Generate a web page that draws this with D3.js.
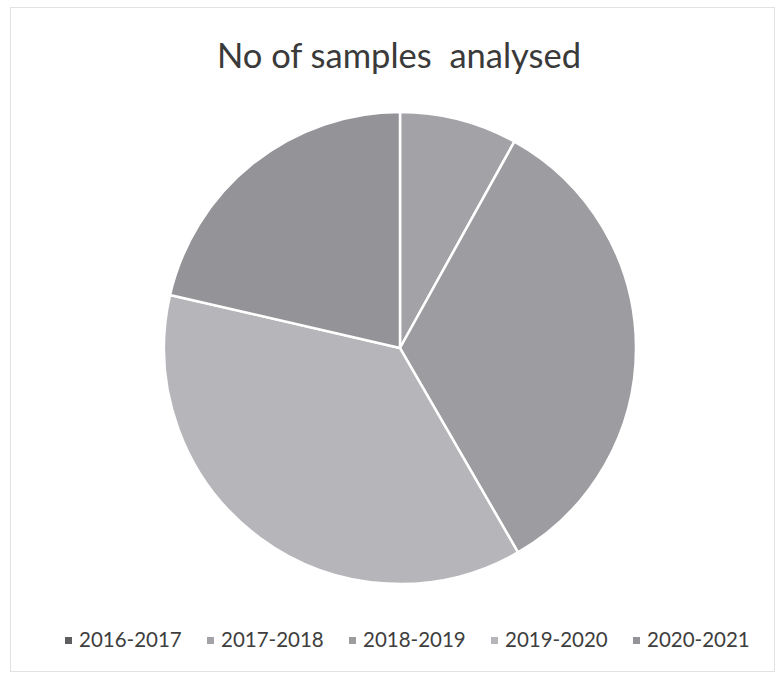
<!DOCTYPE html>
<html>
<head>
<meta charset="utf-8">
<script src="https://cdn.jsdelivr.net/npm/d3@7"></script>
<style>
  html, body { margin: 0; padding: 0; background: #fff; }
  svg { display: block; }
  text { font-family: Lato, "Open Sans", sans-serif; }
</style>
</head>
<body>
<svg id="chart" width="778" height="677"></svg>
<script>
const title = "No of samples  analysed";
const categories = ["2016-2017", "2017-2018", "2018-2019", "2019-2020", "2020-2021"];
const values = [0, 29, 121, 133, 77];
const colors = ["#5e5e60", "#a3a3a7", "#9d9da1", "#b6b6ba", "#949498"];

const svg = d3.select("#chart");

// chart frame
svg.append("rect").attr("x", 10.5).attr("y", 7.5).attr("width", 764).attr("height", 664)
  .attr("fill", "#fff").attr("stroke", "#e2e2e2").attr("stroke-width", 1);

// title
svg.append("text").attr("x", 399).attr("y", 68)
  .attr("text-anchor", "middle").attr("fill", "#3a3a3a")
  .style("font-size", "34.5px").style("white-space", "pre")
  .attr("xml:space", "preserve")
  .text(title);

const cx = 400, cy = 348, r = 236;
const data = categories.map((c, i) => ({ cat: c, value: values[i], color: colors[i] }));
const pie = d3.pie().value(d => d.value).sort(null).startAngle(0).endAngle(2 * Math.PI);
const arc = d3.arc().innerRadius(0).outerRadius(r);

const g = svg.append("g").attr("transform", `translate(${cx},${cy})`);
g.selectAll("path").data(pie(data)).join("path")
  .attr("d", arc)
  .attr("fill", d => d.data.color)
  .attr("stroke", "#fff").attr("stroke-width", 2.5).attr("stroke-linejoin", "round");

// legend
const legendX = d3.scaleBand().domain(categories).range([65, 775]).paddingInner(0);
const lg = svg.append("g");
const items = lg.selectAll("g").data(data).join("g")
  .attr("transform", d => `translate(${legendX(d.cat)},0)`);
items.append("rect").attr("x", 0).attr("y", 637).attr("width", 7).attr("height", 7)
  .attr("fill", d => d.color);
items.append("text").attr("x", 14).attr("y", 647)
  .attr("fill", "#3e3e3e").style("font-size", "20.5px")
  .text(d => d.cat);
</script>
</body>
</html>
